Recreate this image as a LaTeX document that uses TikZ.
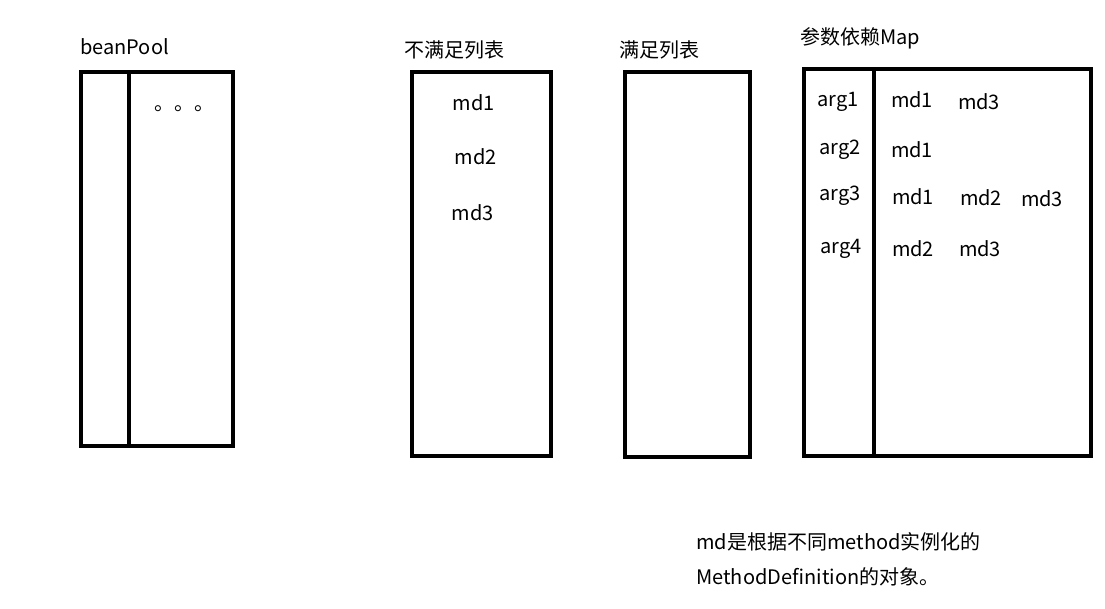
\documentclass[tikz,border=0pt]{standalone}
\usepackage{fontspec}
\setmainfont{Noto Sans CJK SC}
\tikzset{
  box/.style={line width=4.5pt},
  txt/.style={font=\fontsize{20}{24}\selectfont, inner sep=0pt},
  lbl/.style={txt, anchor=west},
}
\begin{document}
\begin{tikzpicture}[x=1pt,y=-1pt]
   \useasboundingbox (0,0) rectangle (1105,609);
   % beanPool
   \node[lbl] (poolname) at (80,47) {beanPool};
   \draw[box] (81,72) rectangle (233,446);
   \draw[box] (129,72) -- (129,446);
   \node[txt] (dots) at (184,109) {。。。};
   % Unsatisfied list
   \node[lbl] (unsatname) at (404,50) {不满足列表};
   \draw[box] (412,72) rectangle (551,456);
   \node[txt] (u1) at (474,103) {md1};
   \node[txt] (u2) at (476,157) {md2};
   \node[txt] (u3) at (473,213) {md3};
   % Satisfied list
   \node[lbl] (satname) at (619,50) {满足列表};
   \draw[box] (625,72) rectangle (750,457);
   % Argument dependency map
   \node[lbl] (mapname) at (800,38) {参数依赖Map};
   \draw[box] (804,69) rectangle (1091,456);
   \draw[box] (874,69) -- (874,456);
   \node[txt] (arg1) at (838,102) {arg1};
   \node[txt] (arg2) at (840,150) {arg2};
   \node[txt] (arg3) at (840,196) {arg3};
   \node[txt] (arg4) at (841,249) {arg4};
   \node[txt] (a1m1) at (912,100) {md1};
   \node[txt] (a1m3) at (979,102) {md3};
   \node[txt] (a2m1) at (912,150) {md1};
   \node[txt] (a3m1) at (913,197) {md1};
   \node[txt] (a3m2) at (981,198) {md2};
   \node[txt] (a3m3) at (1042,199) {md3};
   \node[txt] (a4m2) at (913,249) {md2};
   \node[txt] (a4m3) at (980,249) {md3};
   % Note
   \node[lbl] (note1) at (696,542) {md是根据不同method实例化的};
   \node[lbl] (note2) at (696,577) {MethodDefinition的对象。};
\end{tikzpicture}
\end{document}
